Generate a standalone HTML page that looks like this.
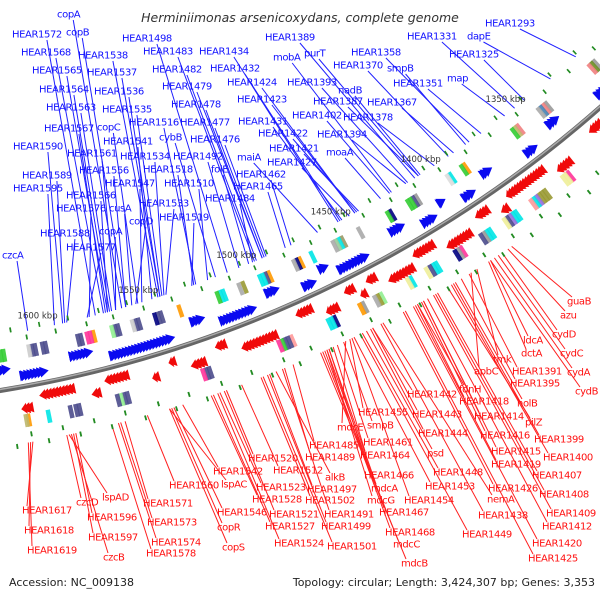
<!DOCTYPE html>
<html><head><meta charset="utf-8"><style>
html,body{margin:0;padding:0;background:#fff;}
svg{display:block;}
text{font-family:"DejaVu Sans","Liberation Sans",sans-serif;}
</style></head><body>
<svg id="map" width="600" height="600" viewBox="0 0 600 600" xmlns="http://www.w3.org/2000/svg">
<rect width="600" height="600" fill="#fff"/>
<g id="lines"></g>
<g id="feat"></g>
<g id="bb"></g>
<g id="ticks"></g>
<g id="labels"></g>
<text x="300" y="22" text-anchor="middle" font-size="12.5" font-style="italic" fill="#333">Herminiimonas arsenicoxydans, complete genome</text>
<text x="9" y="586" font-size="11" fill="#222">Accession: NC_009138</text>
<text x="595" y="586" text-anchor="end" font-size="11" fill="#222">Topology: circular; Length: 3,424,307 bp; Genes: 3,353</text>
</svg>
<script>
// ---- data ----
const tickKbp = [1350,1400,1450,1500,1550,1600];
const tickLabels = ["1350 kbp","1400 kbp","1450 kbp","1500 kbp","1550 kbp","1600 kbp"];
const blueClusters = [[1309,1315],[1335,1341],[1351,1357],[1374,1379],[1386,1392],[1400,1403],[1407,1414],[1422,1429],[1443,1458],[1462,1466],[1470,1476],[1487,1493],[1500,1517],[1524,1530],[1540,1570],[1578,1588],[1600,1612],[1617,1625]];
const redClusters = [[1322,1328],[1343,1350],[1355,1375],[1378,1381],[1386,1392],[1398,1410],[1415,1425],[1428,1440],[1445,1449],[1452,1454],[1456,1460],[1466,1471],[1477,1484],[1496,1512],[1519,1523],[1530,1536],[1543,1545],[1552,1554],[1565,1575],[1579,1582],[1590,1605],[1610,1614]];
const blueBoxKbp = [1305,1306.5,1308,1335,1336.5,1338,1339.5,1352,1353.5,1355,1383,1384.5,1391,1392.5,1410,1411.5,1413,1414.5,1424,1425.5,1441,1450,1451.5,1453,1454.5,1466,1472,1473.5,1475,1488,1489.5,1491,1492.5,1501,1503,1511,1512.5,1514,1533,1542,1543.5,1545,1553,1554.5,1556,1563,1564.5,1566,1575,1576.5,1578,1581,1582.5,1598,1599.5,1603,1604.5,1606,1618,1619.5];
const blueBoxColor = ['#999','#6b8e23','#f08080','#999','#f08080','#4682b4','#aaa','#f08080','#bdb76b','#3c3','#ff9900','#3c3','#00e5e5','#ddd','#999','#4b4b8c','#3c3','#3c3','#000080','#3c3','#aaa','#999966','#00e5e5','#99cc99','#aaa','#00e5e5','#ff9900','#000080','#aaa','#ff9900','#4b4b8c','#00e5e5','#00e5e5','#999933','#aaa','#00e5e5','#00e5e5','#3c3','#ff9900','#4b4b8c','#4b4b8c','#000080','#4b4b8c','#4b4b8c','#ccc','#4b4b8c','#4b4b8c','#90ee90','#ff9900','#ff3399','#ff3399','#4b4b8c','#4b4b8c','#4b4b8c','#4b4b8c','#4b4b8c','#4b4b8c','#ccc','#3c3','#3c3'];
const redBoxKbp = [1347,1348.5,1350,1360,1361.5,1363,1364.5,1366,1367.5,1376,1377.5,1379,1380.5,1382,1390,1391.5,1393,1394.5,1405,1406.5,1408,1418,1419.5,1421,1423,1431,1432.5,1446,1447.5,1449,1455,1456.5,1469,1470.5,1472,1490,1491.5,1493,1494.5,1496,1529,1530.5,1532,1567,1568.5,1570,1571.5,1589,1590.5,1593,1603,1612,1613];
const redBoxColor = ['#ff3399','#eeee99','#eeee99','#999933','#999933','#999933','#9370db','#00e5e5','#ff9999','#00e5e5','#00e5e5','#9370db','#4b4b8c','#eeee99','#00e5e5','#00e5e5','#999','#4b4b8c','#ff3399','#999','#000080','#00e5e5','#00e5e5','#4b4b8c','#eeee99','#00e5e5','#eeee99','#90ee90','#999933','#aaa','#999','#ff9900','#000080','#00e5e5','#00e5e5','#ff9999','#4b4b8c','#4b4b8c','#3c3','#ff3399','#4b4b8c','#4b4b8c','#ff3399','#4b4b8c','#4b4b8c','#90ee90','#4b4b8c','#4b4b8c','#4b4b8c','#4b4b8c','#00e5e5','#ff9900','#bdb76b'];
const blueDots = [1302,1310,1318,1326,1333,1344,1350,1359,1366,1372,1380,1388,1395,1401,1409,1416,1422,1431,1437,1445,1452,1458,1465,1472,1479,1486,1494,1500,1507,1515,1521,1528,1536,1543,1550,1557,1565,1571,1578,1586,1593,1600,1607,1614,1622];
const redDots = [1305,1312,1320,1330,1338,1346,1354,1362,1369,1377,1384,1392,1399,1406,1413,1420,1427,1434,1442,1449,1456,1463,1470,1477,1485,1492,1498,1505,1513,1520,1527,1535,1542,1549,1556,1563,1571,1578,1585,1592,1599,1606,1613,1620];
const blueNames = ["copA","HEAR1572","copB","HEAR1568","HEAR1538","HEAR1498","HEAR1483","HEAR1434","HEAR1565","HEAR1537","HEAR1482","HEAR1432","HEAR1564","HEAR1536","HEAR1479","HEAR1424","HEAR1563","HEAR1535","HEAR1478","HEAR1423","HEAR1567","copC","HEAR1516","HEAR1477","HEAR1431","HEAR1590","HEAR1541","cybB","HEAR1476","HEAR1422","HEAR1561","HEAR1534","HEAR1492","maiA","HEAR1421","HEAR1427","HEAR1589","HEAR1556","HEAR1518","folE","HEAR1462","HEAR1595","HEAR1547","HEAR1510","HEAR1465","HEAR1566","HEAR1484","HEAR1576","cusA","HEAR1533","copD","HEAR1519","HEAR1588","copA","HEAR1577","czcA","HEAR1389","mobA","purT","HEAR1393","HEAR1358","HEAR1370","smpB","nadB","HEAR1387","HEAR1367","HEAR1351","HEAR1402","HEAR1378","HEAR1394","moaA","HEAR1331","dapE","HEAR1325","map","HEAR1293"];
const blueKbp = [1560,1573,1558,1569,1542,1507,1493,1449,1567,1541,1492,1448,1566,1541,1489,1440,1565,1540,1489,1440,1568,1552,1523,1488,1447,1589,1545,1513,1487,1439,1563,1539,1501,1460,1438,1443,1588,1558,1524,1496,1474,1593,1550,1517,1477,1567,1494,1576,1555,1538,1553,1525,1587,1563,1577,1606,1407,1420,1405,1411,1376,1388,1378,1404,1405,1385,1369,1421,1396,1412,1426,1349,1327,1343,1355,1311];
const blueLabelPos = [[57,15],[12,35],[66,33],[21,53],[78,56],[122,39],[143,52],[199,52],[32,71],[87,73],[152,70],[210,69],[39,90],[94,92],[162,87],[227,83],[46,108],[102,110],[171,105],[237,100],[44,129],[97,128],[129,123],[180,123],[238,122],[13,147],[103,142],[159,138],[190,140],[258,134],[67,154],[120,157],[173,157],[237,158],[269,149],[267,163],[22,176],[79,171],[143,170],[211,170],[236,175],[13,189],[105,184],[164,184],[233,187],[66,196],[205,199],[56,209],[109,209],[139,204],[129,222],[159,218],[40,234],[99,232],[66,248],[2,256],[265,38],[273,58],[304,54],[287,83],[351,53],[333,66],[387,69],[338,91],[313,102],[367,103],[393,84],[292,116],[343,118],[317,135],[326,153],[407,37],[467,37],[449,55],[447,79],[485,24]];
const redNames = ["guaB","azu","cydD","ldcA","cydC","dctA","tmk","HEAR1391","apbC","cydA","HEAR1395","cydB","HEAR1442","fdnH","HEAR1418","holB","HEAR1455","HEAR1443","HEAR1414","pilZ","mdcE","smpB","HEAR1444","HEAR1416","HEAR1399","HEAR1485","HEAR1461","HEAR1415","HEAR1400","HEAR1489","HEAR1464","psd","HEAR1419","HEAR1448","HEAR1407","alkB","HEAR1466","mdcA","HEAR1453","HEAR1426","HEAR1408","HEAR1497","HEAR1502","mdcG","HEAR1454","nemA","HEAR1491","HEAR1467","HEAR1438","HEAR1409","HEAR1499","HEAR1468","HEAR1412","HEAR1449","mdcC","HEAR1501","HEAR1420","mdcB","HEAR1425","HEAR1617","HEAR1618","HEAR1619","czcD","lspAD","HEAR1596","HEAR1597","czcB","HEAR1571","HEAR1573","HEAR1574","HEAR1578","HEAR1560","lspAC","HEAR1542","HEAR1520","HEAR1546","copR","copS","HEAR1512","HEAR1523","HEAR1528","HEAR1521","HEAR1527","HEAR1524"];
const redKbp = [1387,1389,1392,1398,1394,1399,1405,1409,1408,1396,1413,1398,1457,1435,1435,1416,1468,1457,1432,1420,1470,1471,1458,1433,1417,1495,1474,1432,1418,1499,1476,1460,1436,1462,1425,1503,1478,1478,1466,1442,1426,1506,1510,1479,1467,1452,1500,1479,1453,1427,1507,1480,1430,1463,1481,1509,1437,1482,1441,1613,1614,1615,1598,1597,1594,1595,1596,1572,1574,1575,1578,1562,1552,1546,1526,1550,1551,1552,1519,1529,1533,1527,1532,1530];
const redLabelPos = [[567,302],[560,316],[552,335],[523,341],[560,354],[521,354],[493,360],[512,372],[474,372],[567,373],[510,384],[575,392],[407,395],[459,390],[459,402],[517,404],[358,413],[412,415],[474,417],[525,423],[337,428],[367,426],[418,434],[480,436],[534,440],[309,446],[363,443],[491,452],[543,458],[305,458],[360,456],[427,454],[491,465],[433,473],[532,476],[325,478],[364,476],[371,489],[425,487],[488,489],[539,495],[307,490],[305,501],[367,501],[404,501],[487,500],[324,515],[379,513],[478,516],[546,514],[321,527],[385,533],[542,527],[462,535],[393,545],[327,547],[532,544],[401,564],[528,559],[22,511],[24,531],[27,551],[76,503],[102,498],[87,518],[88,538],[103,558],[143,504],[147,523],[151,543],[146,554],[169,486],[221,485],[213,472],[248,459],[217,513],[217,528],[222,548],[273,471],[256,488],[252,500],[269,515],[265,527],[274,544]];

// ---- geometry ----
const CX=-192, CY=-794, DEG_PER_KBP=360/3424.307, TH0=62.55, K0=1450;
function ang(k){return (TH0+(k-K0)*DEG_PER_KBP)*Math.PI/180;}
function pt(k,r){const a=ang(k);return [CX+r*Math.cos(a),CY+r*Math.sin(a)];}
const NS="http://www.w3.org/2000/svg";
function mk(tag,parent,attrs){const e=document.createElementNS(NS,tag);for(const k in attrs)e.setAttribute(k,attrs[k]);parent.appendChild(e);return e;}
function poly(parent,pts,fill){return mk('polygon',parent,{points:pts.map(p=>p[0].toFixed(1)+','+p[1].toFixed(1)).join(' '),fill:fill});}

const gLines=document.getElementById('lines'), gFeat=document.getElementById('feat'), gBB=document.getElementById('bb'), gTicks=document.getElementById('ticks'), gLab=document.getElementById('labels');

blueNames.forEach((n,i)=>{
  const [x,y]=blueLabelPos[i];
  const t=mk('text',gLab,{x:x,y:y,'font-size':10,'letter-spacing':'-0.4','dominant-baseline':'central',fill:'#1010ff'});
  t.textContent=n;
  
  
  const w=t.getComputedTextLength();
  const e=pt(blueKbp[i],1146);
  const l=mk('line',gLines,{x1:x+w*0.7,y1:y+5,x2:e[0],y2:e[1],stroke:'#2020ff','stroke-width':1});
  
  
});
redNames.forEach((n,i)=>{
  const [x,y]=redLabelPos[i];
  const t=mk('text',gLab,{x:x,y:y,'font-size':10,'letter-spacing':'-0.4','dominant-baseline':'central',fill:'#ff1010'});
  t.textContent=n;
  
  
  const s=pt(redKbp[i],1256);
  const l=mk('line',gLines,{x1:s[0],y1:s[1],x2:x+5,y2:y-5,stroke:'#ff2020','stroke-width':1});
  
  
});

blueDots.forEach((k,i)=>{
  const r=i%2?1142:1152;
  const p=poly(gFeat,[pt(k-0.4,r-2.5),pt(k+0.4,r-2.5),pt(k+0.4,r+2.5),pt(k-0.4,r+2.5)],'#228b22');
  
  
});
redDots.forEach((k,i)=>{
  const r=i%2?1258:1248;
  const p=poly(gFeat,[pt(k-0.4,r-2.5),pt(k+0.4,r-2.5),pt(k+0.4,r+2.5),pt(k-0.4,r+2.5)],'#228b22');
  
  
});

function box(k,r,h,col,name){
  const w=2.0;
  const p=poly(gFeat,[pt(k,r-h/2),pt(k+w,r-h/2),pt(k+w,r+h/2),pt(k,r+h/2)],col);
  p.setAttribute('opacity','0.9');
  
  
}
blueBoxKbp.forEach((k,i)=>box(k,1166,13,blueBoxColor[i],'blue-side-feature'));
redBoxKbp.forEach((k,i)=>box(k,1234,13,redBoxColor[i],'red-side-feature'));

const STEP=1.5, LEN=4.0;
blueClusters.forEach((c,ci)=>{
  const r=ci%2?1180:1189, h=11;
  for(let s=c[0]; s<c[1]; s+=STEP){
    const e=Math.min(s+LEN,c[1]+1.5);
    const p=poly(gFeat,[pt(e,r-h/2),pt(e,r+h/2),pt(s,r)],'#0a0af0');
    
    
  }
});
redClusters.forEach((c,ci)=>{
  const r=ci%2?1222:1212, h=11;
  for(let s=c[0]; s<c[1]; s+=STEP){
    const e=Math.min(s+LEN,c[1]+1.5);
    const p=poly(gFeat,[pt(s,r-h/2),pt(s,r+h/2),pt(e,r)],'#f00a0a');
    
    
  }
});

function arc(r,k1,k2){const a=pt(k1,r),b=pt(k2,r);return `M${a[0]},${a[1]} A${r},${r} 0 0 1 ${b[0]},${b[1]}`;}
const b1=mk('path',gBB,{d:arc(1200,1280,1640),stroke:'#666',fill:'none','stroke-width':5});


const b2=mk('path',gBB,{d:arc(1199,1280,1640),stroke:'#aaa',fill:'none','stroke-width':1.5});



tickKbp.forEach((k,i)=>{
  const p=pt(k,1134);
  const t=mk('text',gTicks,{x:p[0],y:p[1],'font-size':8.5,'text-anchor':'middle','dominant-baseline':'central',fill:'#333'});
  t.textContent=tickLabels[i];
  
  
});
</script>
</body></html>
